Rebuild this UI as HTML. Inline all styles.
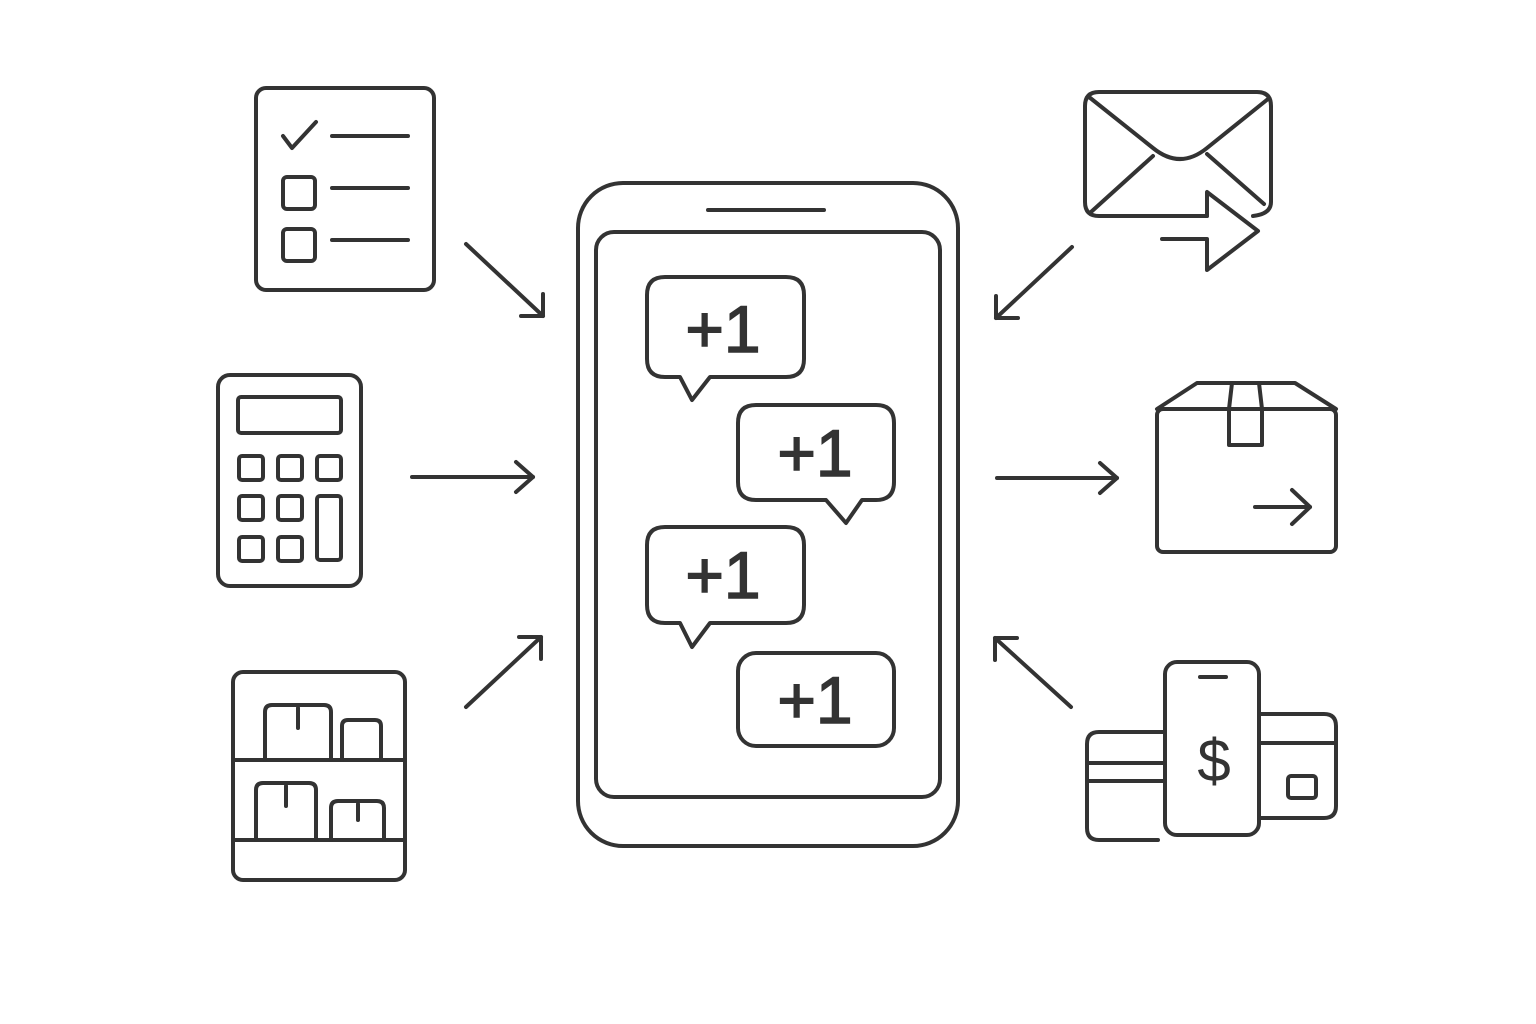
<!DOCTYPE html>
<html><head><meta charset="utf-8"><style>
html,body{margin:0;padding:0;background:#fff;}
svg{display:block;}
text{font-family:"Liberation Sans","DejaVu Sans",sans-serif;fill:#333;}
</style></head><body>
<svg width="1536" height="1024" viewBox="0 0 1536 1024" xmlns="http://www.w3.org/2000/svg">
<g fill="none" stroke="#333" stroke-width="4" stroke-linecap="round" stroke-linejoin="round">
<!-- checklist -->
<rect x="256" y="88" width="178" height="202" rx="10"/>
<path d="M283 136 L292 148 L316 122"/>
<line x1="332" y1="136" x2="408" y2="136"/><line x1="332" y1="188" x2="408" y2="188"/><line x1="332" y1="240" x2="408" y2="240"/>
<rect x="283" y="177" width="32" height="32" rx="4"/><rect x="283" y="229" width="32" height="32" rx="4"/>
<!-- calculator -->
<rect x="218" y="375" width="143" height="211" rx="12"/>
<rect x="238" y="397" width="103" height="36" rx="3"/>
<rect x="239" y="456" width="24" height="24" rx="3"/><rect x="278" y="456" width="24" height="24" rx="3"/><rect x="317" y="456" width="24" height="24" rx="3"/>
<rect x="239" y="496" width="24" height="24" rx="3"/><rect x="278" y="496" width="24" height="24" rx="3"/><rect x="317" y="496" width="24" height="64" rx="3"/>
<rect x="239" y="537" width="24" height="24" rx="3"/><rect x="278" y="537" width="24" height="24" rx="3"/>
<!-- shelves -->
<rect x="233" y="672" width="172" height="208" rx="10"/>
<line x1="235" y1="760" x2="403" y2="760"/><line x1="235" y1="840" x2="403" y2="840"/>
<path d="M265 760 V712 Q265 705 272 705 H324 Q331 705 331 712 V760"/><line x1="298" y1="708" x2="298" y2="728"/>
<path d="M342 760 V726 Q342 720 348 720 H375 Q381 720 381 726 V760"/>
<path d="M256 840 V790 Q256 783 263 783 H309 Q316 783 316 790 V840"/><line x1="286" y1="786" x2="286" y2="806"/>
<path d="M331 840 V808 Q331 801 338 801 H377 Q384 801 384 808 V840"/><line x1="358" y1="804" x2="358" y2="820"/>
<!-- phone -->
<rect x="578" y="183" width="380" height="663" rx="45"/>
<line x1="708" y1="210" x2="824" y2="210"/>
<rect x="596" y="232" width="344" height="565" rx="18"/>
<!-- bubbles -->
<path d="M665 277 H786 Q804 277 804 295 V359 Q804 377 786 377 H710 L692 400 L680 377 H665 Q647 377 647 359 V295 Q647 277 665 277 Z"/>
<path d="M756 405 H876 Q894 405 894 423 V482 Q894 500 876 500 H862 L846 523 L826 500 H756 Q738 500 738 482 V423 Q738 405 756 405 Z"/>
<path d="M665 527 H786 Q804 527 804 545 V605 Q804 623 786 623 H710 L692 647 L680 623 H665 Q647 623 647 605 V545 Q647 527 665 527 Z"/>
<rect x="738" y="653" width="156" height="93" rx="18"/>
<!-- arrows -->
<line x1="466" y1="244" x2="543" y2="316"/><path d="M521 316 H543 V294"/>
<line x1="412" y1="477" x2="533" y2="477"/><path d="M516 462 L533 477 L516 492"/>
<line x1="466" y1="707" x2="541" y2="637"/><path d="M519 637 H541 V659"/>
<line x1="1072" y1="247" x2="996" y2="318"/><path d="M996 296 V318 H1018"/>
<line x1="997" y1="478" x2="1117" y2="478"/><path d="M1100 463 L1117 478 L1100 493"/>
<line x1="1071" y1="707" x2="995" y2="638"/><path d="M995 660 V638 H1017"/>
<!-- envelope -->
<path d="M1207 216 H1099 Q1085 216 1085 202 V106 Q1085 92 1099 92 H1257 Q1271 92 1271 106 V202 Q1271 214 1253 216"/>
<path d="M1089 97 L1153 148 Q1180 170 1207 148 L1268 99"/>
<line x1="1091" y1="212" x2="1153" y2="156"/><line x1="1207" y1="154" x2="1264" y2="204"/>
<path d="M1162 239 H1207 V270 L1258 231 L1207 192 V216"/>
<!-- box -->
<rect x="1157" y="409" width="179" height="143" rx="6"/>
<path d="M1157 409 L1197 383 H1295 L1336 409"/>
<path d="M1232 383 L1229 409 V445 H1262 V409 L1259 383"/>
<line x1="1255" y1="507" x2="1310" y2="507"/><path d="M1292 490 L1310 507 L1292 524"/>
<!-- payment -->
<path d="M1165 732 H1099 Q1087 732 1087 744 V828 Q1087 840 1099 840 H1158"/>
<line x1="1089" y1="763" x2="1165" y2="763"/><line x1="1089" y1="781" x2="1165" y2="781"/>
<path d="M1259 714 H1324 Q1336 714 1336 726 V806 Q1336 818 1324 818 H1259"/>
<line x1="1259" y1="743" x2="1334" y2="743"/>
<rect x="1288" y="776" width="28" height="22" rx="3"/>
<rect x="1165" y="662" width="94" height="173" rx="12"/>
<line x1="1200" y1="677" x2="1226" y2="677"/>
</g>
<g font-size="66" text-anchor="middle" stroke="#333" stroke-width="1.5">
<text x="723" y="352">+1</text>
<text x="815" y="476">+1</text>
<text x="723" y="598">+1</text>
<text x="815" y="723">+1</text>
</g>
<text x="1214" y="781" font-size="60" text-anchor="middle">$</text>
</svg>
</body></html>
